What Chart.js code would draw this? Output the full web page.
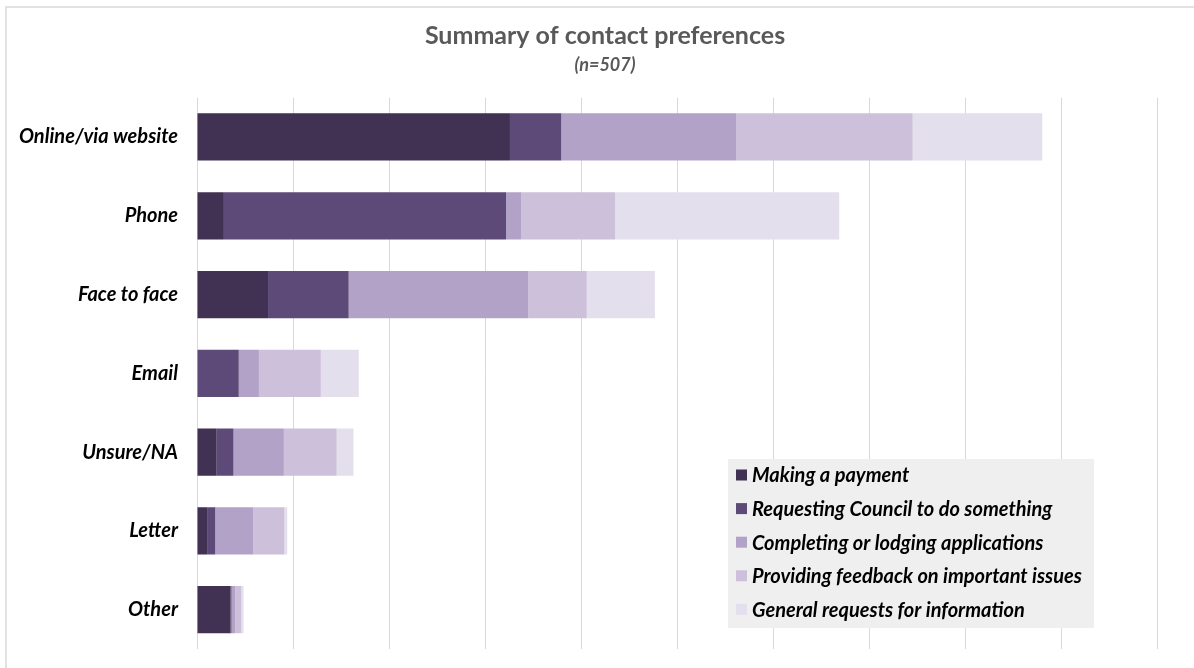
<!DOCTYPE html>
<html>
<head>
<meta charset="utf-8">
<title>Summary of contact preferences</title>
<script src="https://cdn.jsdelivr.net/npm/chart.js@4.4.1/dist/chart.umd.min.js"></script>
<style>
  html, body { margin: 0; padding: 0; background: #fff; }
  #wrap { position: relative; width: 1194px; height: 668px; }
</style>
</head>
<body>
<div id="wrap"><canvas id="contactChart" width="1194" height="668"></canvas></div>
<script>
// Contact channels (rows) and the share of respondents per purpose (%)
const channels = ['Online/via website', 'Phone', 'Face to face', 'Email', 'Unsure/NA', 'Letter', 'Other'];
const makingPayment = [65.2, 5.6, 14.8, 0, 4.1, 2.1, 7.0];
const requestingCouncil = [10.7, 58.8, 16.8, 8.7, 3.5, 1.7, 0.2];
const completingApplications = [36.4, 3.1, 37.4, 4.2, 10.5, 7.9, 0.8];
const providingFeedback = [36.8, 19.6, 12.2, 12.9, 11.0, 6.5, 1.2];
const generalRequests = [27.0, 46.7, 14.2, 7.9, 3.5, 0.6, 0.5];

const purposeLabels = [
    'Making a payment',
    'Requesting Council to do something',
    'Completing or lodging applications',
    'Providing feedback on important issues',
    'General requests for information'
];
const purposeColours = ['#413152', '#5e4a79', '#b3a2c7', '#ccc0da', '#e4dfec'];
const purposeValues = [makingPayment, requestingCouncil, completingApplications, providingFeedback, generalRequests];

const FONT = 'Lato, "Open Sans", sans-serif';

// Legend box drawn inside the plot area, lower right
const boxLegend = {
    id: 'boxLegend',
    afterDraw(chart) {
        const ctx = chart.ctx;
        const x = 728, y = 459, w = 366, h = 169;
        ctx.save();
        ctx.fillStyle = '#efefef';
        ctx.fillRect(x, y, w, h);
        ctx.font = 'italic bold 20px ' + FONT;
        ctx.textBaseline = 'middle';
        chart.data.datasets.forEach((ds, i) => {
            const cy = y + 16 + i * 33.6;
            ctx.fillStyle = ds.backgroundColor;
            ctx.fillRect(x + 8, cy - 5.5, 11, 11);
            ctx.fillStyle = '#000';
            ctx.fillText(ds.label, x + 24, cy + 1);
        });
        ctx.restore();
    }
};

// Thin frame along the top and left edges
const frame = {
    id: 'frame',
    beforeDraw(chart) {
        const ctx = chart.ctx;
        ctx.save();
        ctx.strokeStyle = '#d9d9d9';
        ctx.lineWidth = 1.5;
        ctx.beginPath();
        ctx.moveTo(6, 668);
        ctx.lineTo(6, 7);
        ctx.lineTo(1194, 7);
        ctx.stroke();
        ctx.restore();
    }
};

const ctx = document.getElementById('contactChart').getContext('2d');
new Chart(ctx, {
    type: 'bar',
    data: {
        labels: channels,
        datasets: purposeLabels.map((label, i) => ({
            label: label,
            data: purposeValues[i],
            backgroundColor: purposeColours[i],
            borderWidth: 0,
            barPercentage: 0.6,
            categoryPercentage: 1.0
        }))
    },
    options: {
        indexAxis: 'y',
        responsive: false,
        animation: false,
        layout: { padding: { left: 16, right: 0, top: 0, bottom: 19 } },
        plugins: {
            legend: { display: false },
            tooltip: { enabled: false },
            title: {
                display: true,
                text: 'Summary of contact preferences',
                color: '#595959',
                font: { family: FONT, size: 25, weight: 'bold' },
                padding: { top: 21, bottom: 0 }
            },
            subtitle: {
                display: true,
                text: '(n=507)',
                color: '#595959',
                font: { family: FONT, size: 18, weight: 'bold', style: 'italic' },
                padding: { top: 3, bottom: 22 }
            }
        },
        scales: {
            x: {
                stacked: true,
                min: 0,
                max: 200,
                afterFit(scale) { scale.height = 0; },
                ticks: { display: false, stepSize: 20 },
                grid: { color: '#d9d9d9', lineWidth: 1, drawTicks: false },
                border: { display: false }
            },
            y: {
                stacked: true,
                afterFit(scale) {
                    scale.width = 181;
                    scale.paddingTop = 0;
                    scale.paddingBottom = 0;
                },
                ticks: {
                    color: '#000',
                    padding: 19,
                    font: { family: FONT, size: 20, weight: 'bold', style: 'italic' }
                },
                grid: { display: false, drawTicks: false },
                border: { display: false }
            },
            // empty right-hand strip so the plot stops short of the edge
            yRight: {
                type: 'category',
                position: 'right',
                afterFit(scale) {
                    scale.width = 37;
                    scale.paddingTop = 0;
                    scale.paddingBottom = 0;
                },
                ticks: { display: false },
                grid: { display: false, drawTicks: false },
                border: { display: false }
            }
        }
    },
    plugins: [frame, boxLegend]
});
</script>
</body>
</html>
